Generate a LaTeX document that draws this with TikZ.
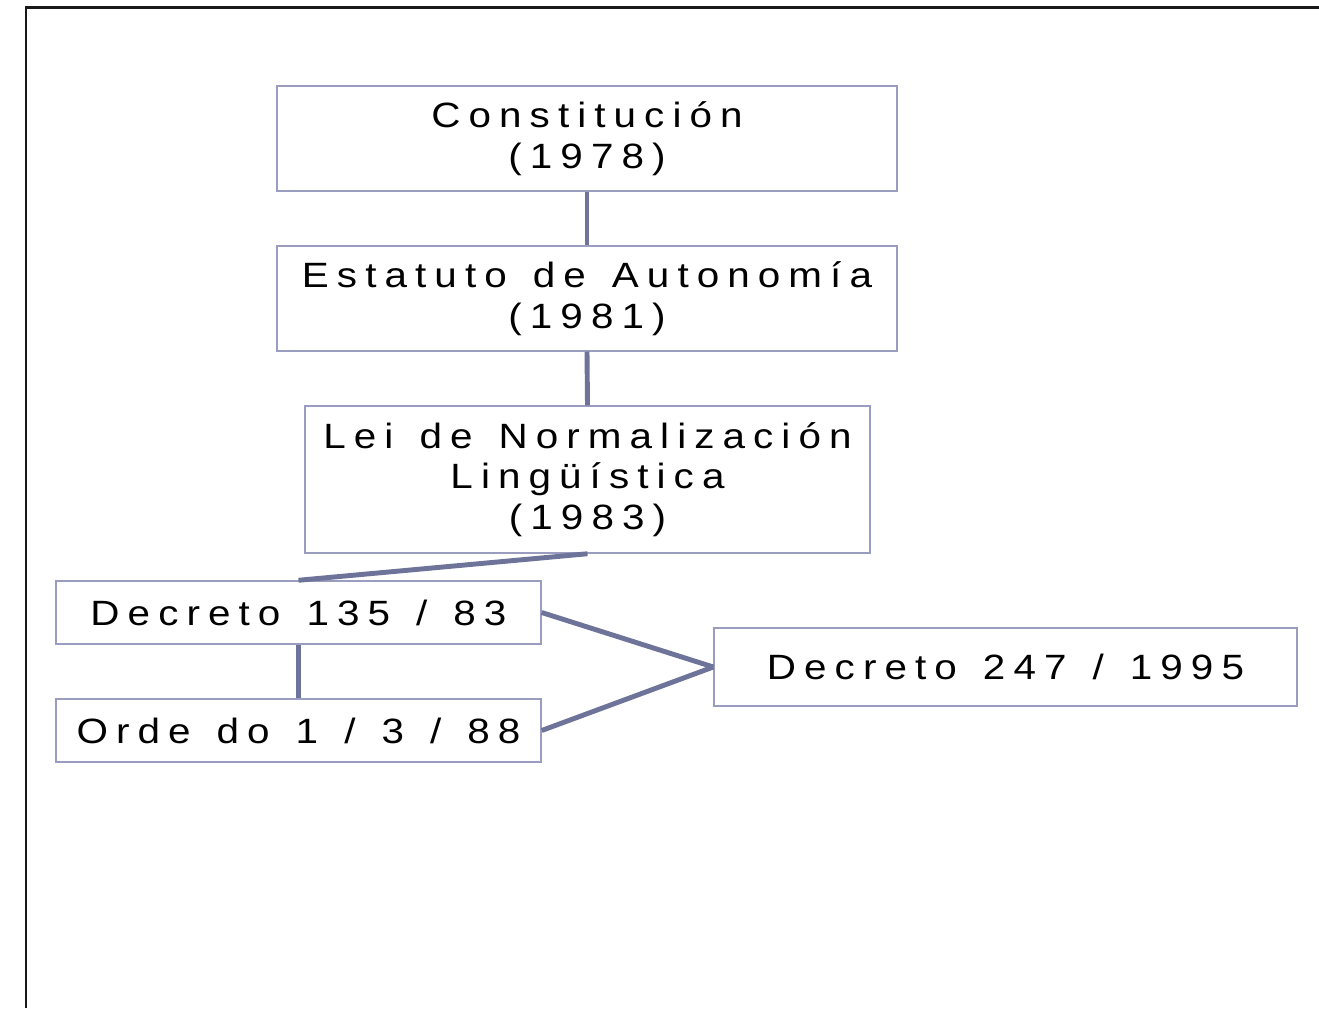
\documentclass[tikz,border=0pt]{standalone}
\usepackage{fontspec}
\setmainfont{Liberation Sans}[LetterSpace=23,FakeStretch=1.15,WordSpace=1.35]
\definecolor{linkblue}{HTML}{6E7399}
\definecolor{boxblue}{HTML}{9A9CC0}

\begin{document}
\begin{tikzpicture}
  [x=0.02cm,y=-0.02cm,every node/.style={rectangle,draw=boxblue,line width=0.85pt,align=center,inner sep=0pt,
   font=\fontsize{20pt}{23.2pt}\selectfont}]
  \useasboundingbox (0,0) rectangle (1319,1008);
  \draw[line width=1.7pt,black!90] (26,1008) -- (26,7.5) -- (1319,7.5);
  \node[minimum width=12.4cm,minimum height=2.1cm] (const) at (587,138.5) {Constitución\\(1978)};
  \node[minimum width=12.4cm,minimum height=2.1cm] (estat) at (587,298.5) {Estatuto de Autonomía\\(1981)};
  \node[minimum width=11.3cm,minimum height=2.94cm] (lei) at (587.5,479.5) {Lei de Normalización\\Lingüística\\(1983)};
  \node[minimum width=9.7cm,minimum height=1.26cm] (dec83) at (298.5,612.5) {Decreto 135 / 83};
  \node[minimum width=9.7cm,minimum height=1.26cm] (orde) at (298.5,730.5) {Orde do 1 / 3 / 88};
  \node[minimum width=11.66cm,minimum height=1.56cm] (dec95) at (1005.5,667) {Decreto 247 / 1995};
  \begin{scope}[line width=2.8pt, linkblue]
    \foreach \from/\to in {const/estat,estat/lei,lei/dec83,dec83/orde}
    \draw (\from.south) -- (\to.north);
    \foreach \from in {dec83,orde}
    \draw (\from.east) -- (dec95.west);
  \end{scope}
\end{tikzpicture}
\end{document}
